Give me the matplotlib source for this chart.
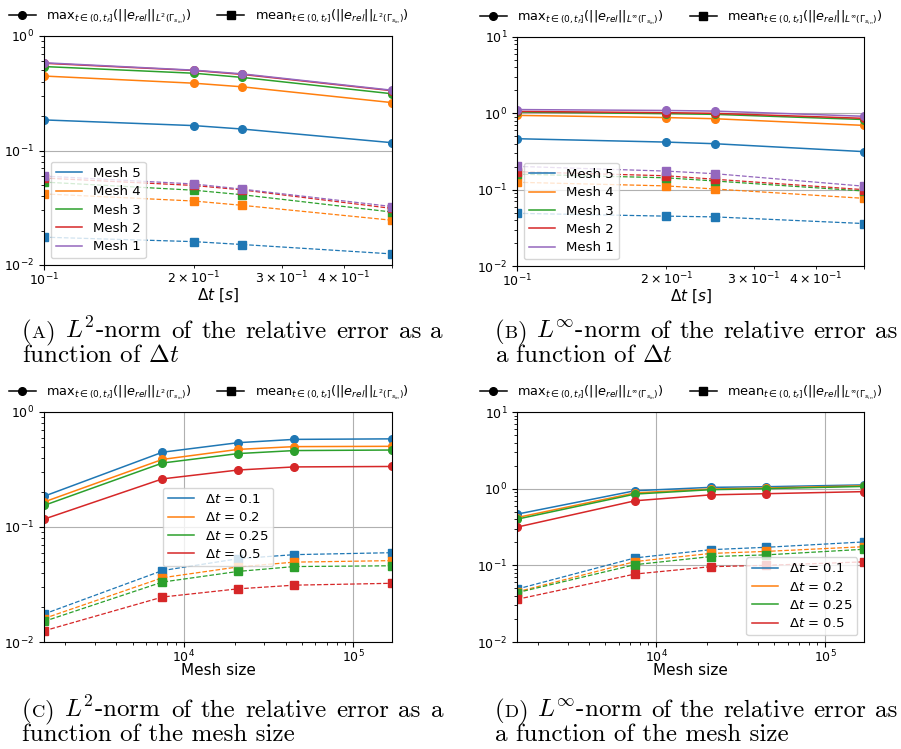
import numpy as np
import matplotlib.pyplot as plt
from matplotlib.lines import Line2D

# time steps and mesh sizes
dts = [0.1, 0.2, 0.25, 0.5]
mesh_sizes = [1500, 7500, 21000, 45000, 170000]
mesh_names = ["Mesh 5", "Mesh 4", "Mesh 3", "Mesh 2", "Mesh 1"]
dt_names = [r"$\Delta t$ = 0.1", r"$\Delta t$ = 0.2",
            r"$\Delta t$ = 0.25", r"$\Delta t$ = 0.5"]

# rows: Mesh 5 .. Mesh 1 (coarse -> fine), columns: dt
l2_max = [[0.185, 0.165, 0.154, 0.117],
          [0.447, 0.387, 0.360, 0.262],
          [0.541, 0.473, 0.435, 0.313],
          [0.578, 0.500, 0.462, 0.333],
          [0.584, 0.503, 0.467, 0.336]]
l2_mean = [[0.0175, 0.0160, 0.0151, 0.0125],
           [0.0418, 0.0362, 0.0332, 0.0246],
           [0.0530, 0.0450, 0.0411, 0.0290],
           [0.0575, 0.0495, 0.0453, 0.0312],
           [0.0598, 0.0510, 0.0460, 0.0324]]
linf_max = [[0.465, 0.420, 0.400, 0.315],
            [0.940, 0.880, 0.850, 0.695],
            [1.040, 0.990, 0.970, 0.830],
            [1.060, 1.020, 1.000, 0.860],
            [1.120, 1.090, 1.070, 0.915]]
linf_mean = [[0.049, 0.045, 0.044, 0.036],
             [0.125, 0.112, 0.102, 0.077],
             [0.160, 0.143, 0.130, 0.096],
             [0.172, 0.152, 0.137, 0.100],
             [0.202, 0.175, 0.162, 0.111]]

plt.rcParams['font.size'] = 9

W, H = 901, 749
fig = plt.figure(figsize=(W / 100, H / 100), dpi=100)
colors = plt.rcParams['axes.prop_cycle'].by_key()['color']


def px_axes(x0, y0, x1, y1):
    return fig.add_axes([x0 / W, 1 - y1 / H, (x1 - x0) / W, (y1 - y0) / H])


def draw(ax, x, ymax, ymean, names, ylim, norm, loc, xlabel):
    for i in range(len(names)):
        ax.plot(x, ymax[i], '-o', color=colors[i], lw=1.1, ms=5.5)
        ax.plot(x, ymean[i], '--s', color=colors[i], lw=0.9, ms=5.5)
    ax.set_xscale('log')
    ax.set_yscale('log')
    ax.set_xlim(x[0], x[-1])
    ax.set_ylim(*ylim)
    ax.grid(True, which='major')
    ax.tick_params(axis='x', which='both', pad=1.5)
    ax.set_xlabel(xlabel, fontsize=11, labelpad=-1.5)

    hnd = [Line2D([], [], color=colors[i], lw=1.1) for i in range(len(names))]
    leg = ax.legend(hnd, names, loc=loc, fontsize=9.5, labelspacing=0.4)
    ax.add_artist(leg)

    top = [Line2D([], [], color='k', marker='o', ms=5.5, lw=1.1),
           Line2D([], [], color='k', marker='s', ms=5.5, lw=1.1)]
    lbls = [r"$\mathrm{max}_{t\in(0,t_f]}(||e_{rel}||_{%s(\Gamma_{s_{in}})})$" % norm,
            r"$\mathrm{mean}_{t\in(0,t_f]}(||e_{rel}||_{%s(\Gamma_{s_{in}})})$" % norm]
    ax.legend(top, lbls, loc='lower center', bbox_to_anchor=(0.473, 1.0),
              ncol=2, frameon=False, fontsize=9.3, borderaxespad=0.4,
              handlelength=2.1)


rend = fig.canvas.get_renderer()
CAP = dict(family='cmr10', math_fontfamily='cm', va='baseline')


def caption(x0, x1, y, tag, line1, line2, fs=18):
    # first line justified between x0 and x1, "(A)" with a small-caps letter
    head = [fig.text(0, 1 - y / H, s, fontsize=f, **CAP)
            for s, f in [("(", fs), (tag, fs * 0.74), (")", fs)]]
    words = [fig.text(0, 1 - y / H, w, fontsize=fs, **CAP)
             for w in line1.split(" ")]
    wd = lambda t: t.get_window_extent(rend).width
    total = sum(wd(t) for t in head) + sum(wd(t) for t in words)
    gap = (x1 - x0 - total) / len(words)
    xx = x0
    for t in head:
        t.set_x(xx / W)
        xx += wd(t)
    for t in words:
        xx += gap
        t.set_x(xx / W)
        xx += wd(t)
    fig.text(x0 / W, 1 - (y + 24) / H, line2, fontsize=fs, **CAP)


mx = np.array(l2_max)
mn = np.array(l2_mean)
ix = np.array(linf_max)
im = np.array(linf_mean)

axA = px_axes(44, 36, 392, 265)
draw(axA, dts, mx, mn, mesh_names, (1e-2, 1e0), "L^2", 'lower left',
     r"$\Delta t\ [s]$")
axB = px_axes(517, 37, 864, 266)
draw(axB, dts, ix, im, mesh_names, (1e-2, 1e1), r"L^\infty", 'lower left',
     r"$\Delta t\ [s]$")
axC = px_axes(44, 412, 392, 642)
draw(axC, mesh_sizes, mx.T, mn.T, dt_names, (1e-2, 1e0), "L^2", 'center',
     "Mesh size")
axD = px_axes(517, 412, 864, 642)
draw(axD, mesh_sizes, ix.T, im.T, dt_names, (1e-2, 1e1), r"L^\infty",
     'lower right', "Mesh size")

caption(22, 443, 338, "A", r"$L^2$-norm of the relative error as a",
        r"function of $\Delta t$")
caption(495, 897, 338, "B", r"$L^\infty$-norm of the relative error as",
        r"a function of $\Delta t$")
caption(22, 443, 717, "C", r"$L^2$-norm of the relative error as a",
        "function of the mesh size")
caption(495, 897, 717, "D", r"$L^\infty$-norm of the relative error as",
        "a function of the mesh size")

fig.savefig("out.png", dpi=100)
